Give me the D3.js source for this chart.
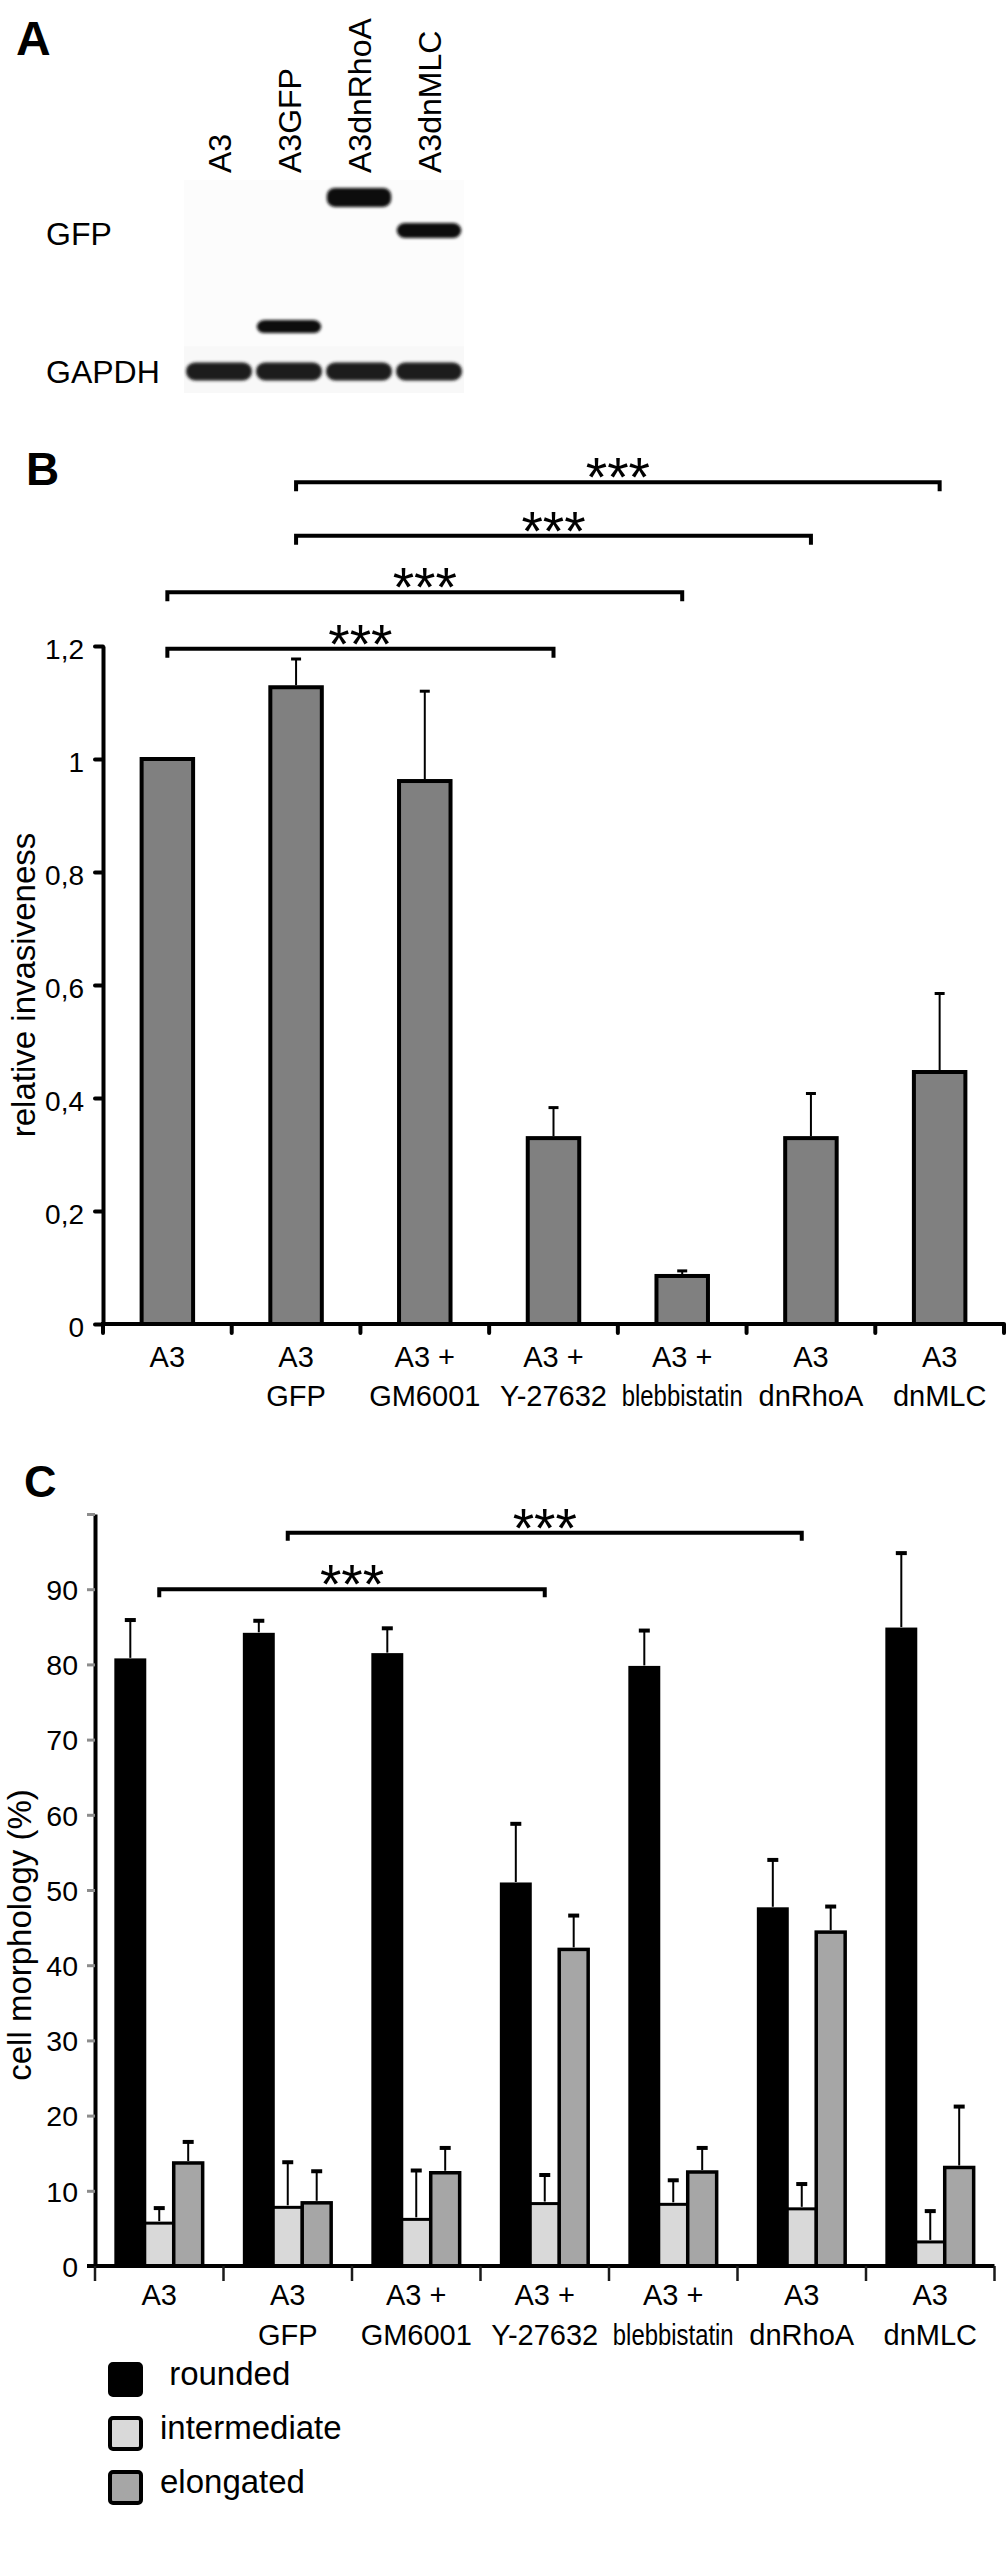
<!DOCTYPE html>
<html>
<head>
<meta charset="utf-8">
<script src="https://cdn.jsdelivr.net/npm/d3@7"></script>
<style>
  body { margin: 0; background: #fff; }
  svg { display: block; }
  text { font-family: "Liberation Sans", Arial, Helvetica, sans-serif; fill: #000; }
</style>
</head>
<body>
<svg id="fig" width="1007" height="2573"></svg>
<script>
// ---------------- DATA ----------------
// Panel A : western blot
const blotLanes = ["A3", "A3GFP", "A3dnRhoA", "A3dnMLC"];
const gfpBandLanes = ["A3GFP", "A3dnRhoA", "A3dnMLC"];
const gfpBandMobility = [0.688, 0.082, 0.237];          // relative migration (0 = top of gel)
const gapdhBandMobility = [0.899, 0.899, 0.899, 0.899]; // one per lane
const blotRowLabels = ["GFP", "GAPDH"];
const blotRowLabelMobility = [0.305, 0.953];

// Panel B : relative invasiveness
const catLine1 = ["A3", "A3", "A3 +", "A3 +", "A3 +", "A3", "A3"];
const catLine2 = ["", "GFP", "GM6001", "Y-27632", "blebbistatin", "dnRhoA", "dnMLC"];
const invasiveness   = [1.0, 1.127, 0.961, 0.329, 0.085, 0.329, 0.446];
const invasivenessSD = [0, 0.050, 0.159, 0.054, 0.009, 0.079, 0.139];
const invTickValues = [0, 0.2, 0.4, 0.6, 0.8, 1, 1.2];
const invTickLabels = ["0", "0,2", "0,4", "0,6", "0,8", "1", "1,2"];
const invComparisonFrom  = [0, 0, 1, 1];
const invComparisonTo    = [3, 4, 5, 6];
const invComparisonLevel = [1.195, 1.295, 1.395, 1.49];
const invComparisonText  = ["***", "***", "***", "***"];

// Panel C : cell morphology (%)
const morphSeries = ["rounded", "intermediate", "elongated"];
const rounded        = [80.6, 84.0, 81.3, 50.8, 79.6, 47.5, 84.7];
const roundedSD      = [5.3, 1.8, 3.5, 8.0, 4.9, 6.5, 10.1];
const intermediate   = [5.7, 7.8, 6.2, 8.3, 8.2, 7.6, 3.2];
const intermediateSD = [2.0, 6.0, 6.5, 3.8, 3.2, 3.3, 4.1];
const elongated      = [13.7, 8.4, 12.4, 42.1, 12.5, 44.4, 13.1];
const elongatedSD    = [2.8, 4.2, 3.3, 4.5, 3.2, 3.4, 8.1];
const morphTickValues = [0, 10, 20, 30, 40, 50, 60, 70, 80, 90, 100];
const morphTickLabels = ["0", "10", "20", "30", "40", "50", "60", "70", "80", "90", ""];
const morphComparisonFrom  = [0, 1];
const morphComparisonTo    = [3, 5];
const morphComparisonLevel = [90.0, 97.5];
const morphComparisonText  = ["***", "***"];

// ---------------- STYLE ----------------
const seriesFill = { rounded: "#000000", intermediate: "#d9d9d9", elongated: "#a6a6a6" };
const seriesStroke = { rounded: 3, intermediate: 3, elongated: 3.5 };
const svg = d3.select("#fig");
const idx = d3.range(catLine1.length);

function panelLetter(txt, x, y, size) {
  svg.append("text").attr("x", x).attr("y", y).attr("font-size", size)
     .attr("font-weight", "bold").text(txt);
}

// ================= PANEL A =================
panelLetter("A", 16, 55, 48);
const gA = svg.append("g");
const laneX = d3.scaleBand().domain(blotLanes).range([184, 464]);
const mobY = d3.scaleLinear().domain([0, 1]).range([180, 393]);

const defs = svg.append("defs");
defs.append("filter").attr("id", "soft").attr("x", "-20%").attr("y", "-60%")
    .attr("width", "140%").attr("height", "220%")
  .append("feGaussianBlur").attr("stdDeviation", 1.6);

gA.append("rect")
  .attr("x", laneX.range()[0]).attr("y", mobY(0))
  .attr("width", laneX.range()[1] - laneX.range()[0])
  .attr("height", mobY(0.78) - mobY(0))
  .attr("fill", "#fcfcfc");
gA.append("rect")
  .attr("x", laneX.range()[0]).attr("y", mobY(0.78))
  .attr("width", laneX.range()[1] - laneX.range()[0])
  .attr("height", mobY(1) - mobY(0.78))
  .attr("fill", "#f8f8f8");

const gfpThickByLane = { "A3GFP": 13, "A3dnRhoA": 19, "A3dnMLC": 15 };
const gapdhThick = 18;
gA.selectAll("rect.gfp").data(gfpBandLanes).join("rect")
  .attr("class", "gfp")
  .attr("x", d => laneX(d) + laneX.bandwidth() * 0.04)
  .attr("width", laneX.bandwidth() * 0.92)
  .attr("y", (d, i) => mobY(gfpBandMobility[i]) - gfpThickByLane[d] / 2)
  .attr("height", d => gfpThickByLane[d])
  .attr("rx", 8)
  .attr("fill", "#0e0e0e")
  .attr("filter", "url(#soft)");
gA.selectAll("rect.gapdh").data(blotLanes).join("rect")
  .attr("class", "gapdh")
  .attr("x", d => laneX(d) + 2)
  .attr("width", laneX.bandwidth() - 4)
  .attr("y", (d, i) => mobY(gapdhBandMobility[i]) - gapdhThick / 2)
  .attr("height", gapdhThick)
  .attr("rx", 9)
  .attr("fill", "#1a1a1a")
  .attr("filter", "url(#soft)");

gA.selectAll("text.lane").data(blotLanes).join("text")
  .attr("class", "lane")
  .attr("transform", d => `translate(${laneX(d) + laneX.bandwidth() / 2 + 12},173) rotate(-90)`)
  .attr("font-size", 32)
  .text(d => d);
gA.selectAll("text.row").data(blotRowLabels).join("text")
  .attr("class", "row")
  .attr("x", 46)
  .attr("y", (d, i) => mobY(blotRowLabelMobility[i]))
  .attr("font-size", 32)
  .text(d => d);

// ================= PANEL B =================
panelLetter("B", 26, 485, 46);
const gB = svg.append("g");
const xB = d3.scaleBand().domain(idx).range([103, 1004]);
const yB = d3.scaleLinear().domain([0, 1.2]).range([1324, 646]);
const bwB = xB.bandwidth() * 0.4;

gB.selectAll("rect.bar").data(idx).join("rect")
  .attr("class", "bar")
  .attr("x", i => xB(i) + (xB.bandwidth() - bwB) / 2)
  .attr("width", bwB)
  .attr("y", i => yB(invasiveness[i]))
  .attr("height", i => yB(0) - yB(invasiveness[i]))
  .attr("fill", "#808080").attr("stroke", "#000").attr("stroke-width", 4);

const errB = gB.selectAll("g.err").data(idx.filter(i => invasivenessSD[i] > 0)).join("g").attr("class", "err");
errB.append("line")
  .attr("x1", i => xB(i) + xB.bandwidth() / 2).attr("x2", i => xB(i) + xB.bandwidth() / 2)
  .attr("y1", i => yB(invasiveness[i]) - 2).attr("y2", i => yB(invasiveness[i] + invasivenessSD[i]))
  .attr("stroke", "#000").attr("stroke-width", 2);
errB.append("line")
  .attr("x1", i => xB(i) + xB.bandwidth() / 2 - 5).attr("x2", i => xB(i) + xB.bandwidth() / 2 + 5)
  .attr("y1", i => yB(invasiveness[i] + invasivenessSD[i])).attr("y2", i => yB(invasiveness[i] + invasivenessSD[i]))
  .attr("stroke", "#000").attr("stroke-width", 3);

// y axis
const axB = gB.append("g").attr("transform", `translate(${xB.range()[0]},0)`)
  .call(d3.axisLeft(yB).tickValues(invTickValues).tickFormat((d, i) => invTickLabels[i])
        .tickSize(8).tickSizeOuter(0).tickPadding(11));
axB.select(".domain").attr("stroke", "#000").attr("stroke-width", 4);
axB.selectAll(".tick line").attr("stroke", "#000").attr("stroke-width", 4).attr("stroke-linecap", "round");
axB.selectAll(".tick text").attr("font-size", 28).attr("font-family", null).attr("dy", "0.46em").attr("fill", "#000");

// x axis
gB.append("line").attr("x1", xB.range()[0] - 2).attr("x2", xB.range()[1])
  .attr("y1", yB(0)).attr("y2", yB(0)).attr("stroke", "#000").attr("stroke-width", 4);
gB.selectAll("line.xt").data(idx.concat([catLine1.length])).join("line").attr("class", "xt")
  .attr("x1", i => xB.range()[0] + i * xB.step()).attr("x2", i => xB.range()[0] + i * xB.step())
  .attr("y1", yB(0)).attr("y2", yB(0) + 9)
  .attr("stroke", "#000").attr("stroke-width", 4).attr("stroke-linecap", "round");

function catLabels(g, x, y0, lineGap) {
  g.selectAll("text.c1").data(idx).join("text").attr("class", "c1")
    .attr("x", i => x(i) + x.bandwidth() / 2).attr("y", y0)
    .attr("text-anchor", "middle").attr("font-size", 29).text(i => catLine1[i]);
  g.selectAll("text.c2").data(idx).join("text").attr("class", "c2")
    .attr("x", i => x(i) + x.bandwidth() / 2).attr("y", y0 + lineGap)
    .attr("text-anchor", "middle").attr("font-size", 29).text(i => catLine2[i])
    .each(function () {
      const maxW = x.bandwidth() * 0.94;
      if (this.getComputedTextLength() > maxW) {
        d3.select(this).attr("textLength", maxW).attr("lengthAdjust", "spacingAndGlyphs");
      }
    });
}
catLabels(gB, xB, 1367, 39);

// y axis title
gB.append("text")
  .attr("transform", `translate(35,${(yB(0) + yB(1.2)) / 2}) rotate(-90)`)
  .attr("text-anchor", "middle").attr("font-size", 33).text("relative invasiveness");

// significance brackets
function brackets(g, x, y, from, to, level, label, tick) {
  d3.range(from.length).forEach(k => {
    const x1 = x(from[k]) + x.bandwidth() / 2, x2 = x(to[k]) + x.bandwidth() / 2, yy = y(level[k]);
    g.append("path")
      .attr("d", `M${x1},${yy + tick}V${yy}H${x2}V${yy + tick}`)
      .attr("fill", "none").attr("stroke", "#000").attr("stroke-width", 4);
    g.append("text").attr("x", (x1 + x2) / 2).attr("y", yy + 14)
      .attr("text-anchor", "middle").attr("font-size", 55).text(label[k]);
  });
}
brackets(gB, xB, yB, invComparisonFrom, invComparisonTo, invComparisonLevel, invComparisonText, 9);

// ================= PANEL C =================
panelLetter("C", 24, 1497, 45);
const gC = svg.append("g");
const xC = d3.scaleBand().domain(idx).range([95, 994.5]);
const yC = d3.scaleLinear().domain([0, 100]).range([2266, 1514]);
const xSub = d3.scaleBand().domain(morphSeries).range([0, xC.bandwidth()]).paddingInner(0).paddingOuter(0.72);
const seriesVals = { rounded: rounded, intermediate: intermediate, elongated: elongated };
const seriesSD = { rounded: roundedSD, intermediate: intermediateSD, elongated: elongatedSD };

const cells = [];
idx.forEach(i => morphSeries.forEach(s => cells.push({ i: i, s: s })));

gC.selectAll("rect.bar").data(cells).join("rect").attr("class", "bar")
  .attr("x", d => xC(d.i) + xSub(d.s))
  .attr("width", xSub.bandwidth())
  .attr("y", d => yC(seriesVals[d.s][d.i]))
  .attr("height", d => yC(0) - yC(seriesVals[d.s][d.i]))
  .attr("fill", d => seriesFill[d.s]).attr("stroke", "#000")
  .attr("stroke-width", d => seriesStroke[d.s]);

const errC = gC.selectAll("g.err").data(cells).join("g").attr("class", "err");
errC.append("line")
  .attr("x1", d => xC(d.i) + xSub(d.s) + xSub.bandwidth() / 2)
  .attr("x2", d => xC(d.i) + xSub(d.s) + xSub.bandwidth() / 2)
  .attr("y1", d => yC(seriesVals[d.s][d.i]) - 2)
  .attr("y2", d => yC(seriesVals[d.s][d.i] + seriesSD[d.s][d.i]))
  .attr("stroke", "#000").attr("stroke-width", 2);
errC.append("line")
  .attr("x1", d => xC(d.i) + xSub(d.s) + xSub.bandwidth() / 2 - 5.5)
  .attr("x2", d => xC(d.i) + xSub(d.s) + xSub.bandwidth() / 2 + 5.5)
  .attr("y1", d => yC(seriesVals[d.s][d.i] + seriesSD[d.s][d.i]))
  .attr("y2", d => yC(seriesVals[d.s][d.i] + seriesSD[d.s][d.i]))
  .attr("stroke", "#000").attr("stroke-width", 4);

const axC = gC.append("g").attr("transform", `translate(${xC.range()[0]},0)`)
  .call(d3.axisLeft(yC).tickValues(morphTickValues).tickFormat((d, i) => morphTickLabels[i])
        .tickSize(8).tickSizeOuter(0).tickPadding(9));
axC.select(".domain").attr("stroke", "#000").attr("stroke-width", 4);
axC.selectAll(".tick line").attr("stroke", "#8c8c8c").attr("stroke-width", 3);
axC.selectAll(".tick text").attr("font-size", 28.5).attr("font-family", null).attr("dy", "0.36em").attr("fill", "#000");

gC.append("line").attr("x1", xC.range()[0] - 8).attr("x2", xC.range()[1])
  .attr("y1", yC(0)).attr("y2", yC(0)).attr("stroke", "#000").attr("stroke-width", 4);
gC.selectAll("line.xt").data(idx.concat([catLine1.length])).join("line").attr("class", "xt")
  .attr("x1", i => xC.range()[0] + i * xC.step()).attr("x2", i => xC.range()[0] + i * xC.step())
  .attr("y1", yC(0)).attr("y2", yC(0) + 15)
  .attr("stroke", "#1a1a1a").attr("stroke-width", 2.5);

catLabels(gC, xC, 2305, 40);

gC.append("text")
  .attr("transform", `translate(31,1935) rotate(-90)`)
  .attr("text-anchor", "middle").attr("font-size", 33).text("cell morphology (%)");

brackets(gC, xC, yC, morphComparisonFrom, morphComparisonTo, morphComparisonLevel, morphComparisonText, 8);

// legend
const lg = gC.append("g").attr("transform", "translate(110,2364)");
const lItem = lg.selectAll("g.li").data(morphSeries).join("g").attr("class", "li")
  .attr("transform", (d, i) => `translate(0,${i * 54})`);
lItem.append("rect").attr("width", 31).attr("height", 31).attr("rx", 3)
  .attr("fill", d => seriesFill[d]).attr("stroke", "#000").attr("stroke-width", 4);
lItem.append("text").attr("x", 50).attr("y", 21).attr("font-size", 33)
  .style("white-space", "pre")
  .text(d => d === "rounded" ? " " + d : d);
</script>
</body>
</html>
